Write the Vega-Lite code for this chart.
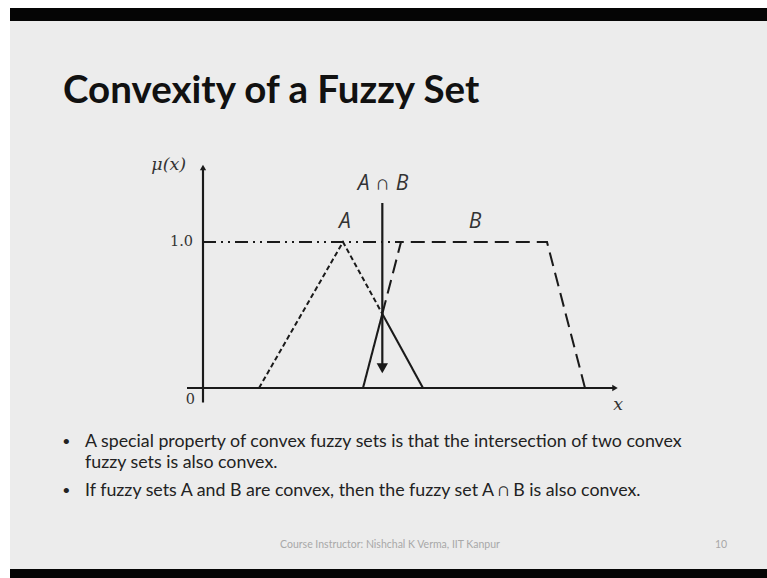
{
  "$schema": "https://vega.github.io/schema/vega-lite/v6.json",
  "autosize": {"type": "fit", "contains": "padding"},
  "width": 767,
  "height": 578,
  "padding": 0,
  "background": "#ffffff",
  "config": {"view": {"stroke": null}},
  "datasets": {
    "panels": [
      {"panel": "frame", "x0": -4.825, "x1": 14.1, "y0": -1.3014, "y1": 2.6027},
      {"panel": "slide", "x0": -4.825, "x1": 14.1, "y0": -1.2397, "y1": 2.5137}
    ],
    "curves": [
      {"seg": "A", "series": "A", "i": 0, "x": 1.4, "mu": 0},
      {"seg": "A", "series": "A", "i": 1, "x": 3.5, "mu": 1},
      {"seg": "A", "series": "A", "i": 2, "x": 4.483, "mu": 0.508},
      {"seg": "AB", "series": "A∩B", "i": 0, "x": 4.0, "mu": 0},
      {"seg": "AB", "series": "A∩B", "i": 1, "x": 4.483, "mu": 0.508},
      {"seg": "AB", "series": "A∩B", "i": 2, "x": 5.5, "mu": 0},
      {"seg": "B", "series": "B", "i": 0, "x": 4.483, "mu": 0.508},
      {"seg": "B", "series": "B", "i": 1, "x": 4.95, "mu": 1},
      {"seg": "B", "series": "B", "i": 2, "x": 8.6, "mu": 1},
      {"seg": "B", "series": "B", "i": 3, "x": 9.55, "mu": 0},
      {"seg": "level", "series": "level", "i": 0, "x": 0, "mu": 1},
      {"seg": "level", "series": "level", "i": 1, "x": 4.95, "mu": 1},
      {"seg": "xaxis", "series": "axis", "i": 0, "x": -0.4, "mu": 0},
      {"seg": "xaxis", "series": "axis", "i": 1, "x": 10.3, "mu": 0},
      {"seg": "yaxis", "series": "axis", "i": 0, "x": 0, "mu": -0.1},
      {"seg": "yaxis", "series": "axis", "i": 1, "x": 0, "mu": 1.5},
      {"seg": "arrow", "series": "arrow", "i": 0, "x": 4.483, "mu": 1.267},
      {"seg": "arrow", "series": "arrow", "i": 1, "x": 4.483, "mu": 0.16}
    ],
    "heads": [
      {"head": "x", "x": 10.3, "mu": 0, "shape": "triangle-right", "sz": 40},
      {"head": "y", "x": 0, "mu": 1.51, "shape": "triangle-up", "sz": 40},
      {"head": "arrow", "x": 4.483, "mu": 0.135, "shape": "triangle-down", "sz": 130}
    ]
  },
  "encoding": {
    "x": {"type": "quantitative", "scale": {"domain": [-5.075, 14.1], "nice": false, "zero": false}, "axis": null},
    "y": {"type": "quantitative", "scale": {"domain": [-1.3014, 2.6575], "nice": false, "zero": false}, "axis": null}
  },
  "layer": [
    {
      "data": {"name": "panels"},
      "mark": {"type": "rect"},
      "encoding": {
        "x": {"field": "x0", "type": "quantitative"},
        "x2": {"field": "x1"},
        "y": {"field": "y0", "type": "quantitative"},
        "y2": {"field": "y1"},
        "color": {"field": "panel", "type": "nominal", "scale": {"domain": ["frame", "slide"], "range": ["#050505", "#ececec"]}, "legend": null}
      }
    },
    {
      "data": {"name": "curves"},
      "mark": {"type": "line", "color": "#1a1a1a", "strokeCap": "butt"},
      "encoding": {
        "x": {"field": "x", "type": "quantitative"},
        "y": {"field": "mu", "type": "quantitative"},
        "detail": {"field": "seg"},
        "order": {"field": "i"},
        "strokeDash": {"field": "series", "type": "nominal", "scale": {"domain": ["A", "B", "A∩B", "level", "axis", "arrow"], "range": [[5, 3], [14, 7], [1, 0], [13, 5, 2, 5, 2, 5], [1, 0], [1, 0]]}, "legend": null},
        "strokeWidth": {"field": "series", "type": "ordinal", "scale": {"domain": ["A", "B", "A∩B", "level", "axis", "arrow"], "range": [2, 2.2, 2.4, 2.4, 2.2, 4.5]}, "legend": null}
      }
    },
    {
      "data": {"name": "heads"},
      "mark": {"type": "point", "filled": true, "color": "#1a1a1a", "opacity": 1},
      "encoding": {
        "x": {"field": "x", "type": "quantitative"},
        "y": {"field": "mu", "type": "quantitative"},
        "shape": {"field": "shape", "type": "nominal", "scale": null},
        "size": {"field": "sz", "type": "quantitative", "scale": null}
      }
    },
    {
      "data": {"values": [{"x": -3.5, "mu": 1.952, "label": "Convexity of a Fuzzy Set"}]},
      "mark": {"type": "text", "align": "left", "baseline": "alphabetic", "font": "Lato", "fontWeight": "bold", "fontSize": 38.5, "color": "#111111"},
      "encoding": {"x": {"field": "x", "type": "quantitative"}, "y": {"field": "mu", "type": "quantitative"}, "text": {"field": "label"}}
    },
    {
      "data": {"values": [{"x": -0.25, "mu": 1, "label": "1.0"}, {"x": -0.2, "mu": -0.085, "label": "0"}]},
      "mark": {"type": "text", "align": "right", "baseline": "middle", "font": "DejaVu Serif", "fontSize": 14.5, "color": "#333333"},
      "encoding": {"x": {"field": "x", "type": "quantitative"}, "y": {"field": "mu", "type": "quantitative"}, "text": {"field": "label"}}
    },
    {
      "data": {"values": [{"x": -0.42, "mu": 1.527, "label": "μ(x)"}, {"x": 10.5, "mu": -0.116, "label": "x"}]},
      "mark": {"type": "text", "align": "right", "baseline": "middle", "font": "DejaVu Serif", "fontStyle": "italic", "fontSize": 17.5, "color": "#333333"},
      "encoding": {"x": {"field": "x", "type": "quantitative"}, "y": {"field": "mu", "type": "quantitative"}, "text": {"field": "label"}}
    },
    {
      "data": {"values": [{"x": 3.55, "mu": 1.137, "label": "A"}, {"x": 6.8, "mu": 1.137, "label": "B"}, {"x": 4.5, "mu": 1.397, "label": "A ∩ B"}]},
      "mark": {"type": "text", "align": "center", "baseline": "middle", "font": "Open Sans", "fontStyle": "italic", "fontSize": 21, "color": "#333333"},
      "encoding": {"x": {"field": "x", "type": "quantitative"}, "y": {"field": "mu", "type": "quantitative"}, "text": {"field": "label"}}
    },
    {
      "data": {"values": [
        {"x": -2.95, "mu": -0.37, "label": "A special property of convex fuzzy sets is that the intersection of two convex"},
        {"x": -2.95, "mu": -0.514, "label": "fuzzy sets is also convex."},
        {"x": -2.95, "mu": -0.705, "label": "If fuzzy sets A and B are convex, then the fuzzy set A ∩ B is also convex."}
      ]},
      "mark": {"type": "text", "align": "left", "baseline": "middle", "font": "Lato", "fontSize": 17.8, "color": "#222222"},
      "encoding": {"x": {"field": "x", "type": "quantitative"}, "y": {"field": "mu", "type": "quantitative"}, "text": {"field": "label"}}
    },
    {
      "data": {"values": [{"x": -3.42, "mu": -0.37, "label": "•"}, {"x": -3.42, "mu": -0.705, "label": "•"}]},
      "mark": {"type": "text", "align": "center", "baseline": "middle", "font": "Lato", "fontSize": 14, "color": "#222222"},
      "encoding": {"x": {"field": "x", "type": "quantitative"}, "y": {"field": "mu", "type": "quantitative"}, "text": {"field": "label"}}
    },
    {
      "data": {"values": [{"x": 4.675, "mu": -1.075, "label": "Course Instructor: Nishchal K Verma, IIT Kanpur"}, {"x": 12.95, "mu": -1.075, "label": "10"}]},
      "mark": {"type": "text", "align": "center", "baseline": "middle", "font": "Lato", "fontSize": 10.5, "color": "#a8a8a8"},
      "encoding": {"x": {"field": "x", "type": "quantitative"}, "y": {"field": "mu", "type": "quantitative"}, "text": {"field": "label"}}
    }
  ]
}
